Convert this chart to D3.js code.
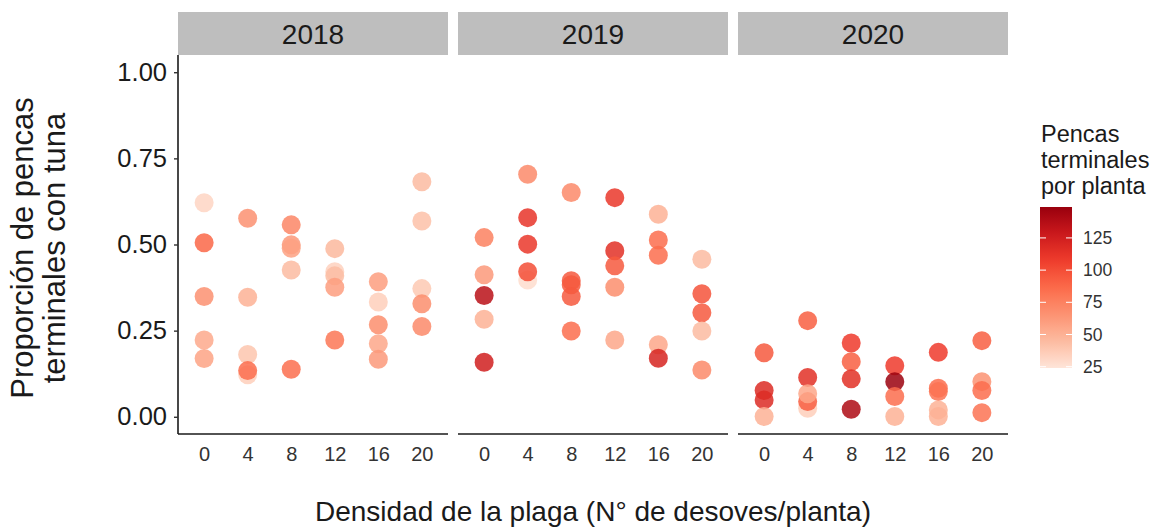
<!DOCTYPE html>
<html>
<head>
<meta charset="utf-8">
<script src="https://cdn.jsdelivr.net/npm/d3@7"></script>
<style>
  body { margin: 0; background: #fff; }
  text { font-family: "Liberation Sans", Arial, sans-serif; }
</style>
</head>
<body>
<div id="chart"></div>
<script>
// facet years and x categories
const years = ["2018", "2019", "2020"];
const densities = [0, 4, 8, 12, 16, 20];
const yTicks = [0, 0.25, 0.5, 0.75, 1];
const legendTicks = [25, 50, 75, 100, 125];

// density (x), proportion (y), pencas terminales por planta (colour)
const dens2018 = [0,0,0,0,0, 4,4,4,4,4, 8,8,8,8,8, 12,12,12,12,12, 16,16,16,16,16, 20,20,20,20,20];
const prop2018 = [0.621,0.505,0.349,0.223,0.169, 0.576,0.347,0.181,0.122,0.134, 0.557,0.499,0.489,0.426,0.138,
                  0.488,0.421,0.409,0.376,0.223, 0.392,0.333,0.267,0.212,0.167, 0.682,0.568,0.372,0.328,0.262];
const pen2018  = [32,88,66,54,57, 66,50,40,35,85, 72,62,58,45,84, 46,34,44,60,80, 60,35,68,55,62, 45,42,38,68,70];

const dens2019 = [0,0,0,0,0, 4,4,4,4,4, 8,8,8,8,8, 12,12,12,12,12, 16,16,16,16,16, 20,20,20,20,20];
const prop2019 = [0.520,0.412,0.352,0.283,0.158, 0.704,0.578,0.501,0.397,0.421, 0.651,0.395,0.383,0.349,0.249,
                  0.636,0.482,0.438,0.376,0.223, 0.588,0.513,0.469,0.209,0.170, 0.457,0.357,0.302,0.249,0.136];
const pen2019  = [75,62,135,50,125, 70,112,110,28,100, 70,95,95,95,85, 110,115,95,68,55, 50,85,85,55,122, 45,97,95,45,70];

const dens2020 = [0,0,0,0, 4,4,4,4,4, 8,8,8,8, 12,12,12,12, 16,16,16,16,16, 20,20,20,20];
const prop2020 = [0.186,0.076,0.049,0.001, 0.279,0.114,0.025,0.044,0.067, 0.214,0.160,0.110,0.022,
                  0.148,0.102,0.059,0.001, 0.187,0.083,0.073,0.020,0.001, 0.221,0.102,0.076,0.012];
const pen2020  = [95,118,118,50, 92,115,35,92,55, 108,92,115,140, 108,148,85,50, 108,85,82,50,50, 92,65,85,82];

const panels = [
  { year: years[0], dens: dens2018, prop: prop2018, pen: pen2018 },
  { year: years[1], dens: dens2019, prop: prop2019, pen: pen2019 },
  { year: years[2], dens: dens2020, prop: prop2020, pen: pen2020 }
];

const W = 1155, H = 527;
const svg = d3.select("#chart").append("svg").attr("width", W).attr("height", H);

const panelW = 270, gap = 10, plotLeft = 178, plotTop = 55, plotBottom = 434;
const stripTop = 12;

const y = d3.scaleLinear().domain([-0.05, 1.05]).range([plotBottom, plotTop]);

// brewer Reds (7) as used by scale_colour_distiller
const reds = ["#FEE5D9","#FCBBA1","#FC9272","#FB6A4A","#EF3B2C","#CB181D","#99000D"];
const cMin = 24, cMax = 149;
const colInterp = d3.piecewise(d3.interpolateLab, reds);
const color = v => colInterp((v - cMin) / (cMax - cMin));

panels.forEach((p, i) => {
  const x0 = plotLeft + i * (panelW + gap);
  const x = d3.scalePoint().domain(densities).range([x0, x0 + panelW]).padding(0.6);
  const g = svg.append("g");

  // strip
  g.append("rect")
    .attr("x", x0).attr("y", stripTop)
    .attr("width", panelW).attr("height", plotTop - stripTop)
    .attr("fill", "#BEBEBE");
  g.append("text")
    .attr("x", x0 + panelW / 2).attr("y", (stripTop + plotTop) / 2 + 10)
    .attr("text-anchor", "middle")
    .attr("font-size", 28).attr("fill", "#1a1a1a")
    .text(p.year);

  // x axis
  const xa = g.append("g").attr("transform", "translate(0," + plotBottom + ")")
    .call(d3.axisBottom(x).tickSize(0).tickPadding(13));
  xa.select(".domain").attr("d", "M" + x0 + ",0H" + (x0 + panelW)).attr("stroke", "#1a1a1a").attr("stroke-width", 1.6);
  xa.selectAll("text").attr("font-size", 20).attr("fill", "#333").attr("font-family", "Liberation Sans, Arial, sans-serif");

  // y axis only on first panel
  if (i === 0) {
    const ya = g.append("g").attr("transform", "translate(" + x0 + ",0)")
      .call(d3.axisLeft(y).tickValues(yTicks).tickFormat(d3.format(".2f")).tickSize(4).tickPadding(7));
    ya.select(".domain").attr("d", "M0," + plotTop + "V" + plotBottom).attr("stroke", "#1a1a1a").attr("stroke-width", 1.6);
    ya.selectAll(".tick line").attr("stroke", "#333").attr("stroke-width", 1.4);
    ya.selectAll("text").attr("font-size", 25.5).attr("fill", "#1a1a1a")
      .attr("font-family", "Liberation Sans, Arial, sans-serif");
  }

  // points
  g.append("g").selectAll("circle")
    .data(p.dens.map((d, k) => ({ d: d, v: p.prop[k], c: p.pen[k] })))
    .join("circle")
    .attr("cx", d => x(d.d))
    .attr("cy", d => y(d.v))
    .attr("r", 9.5)
    .attr("fill", d => color(d.c))
    .attr("fill-opacity", 0.85);
});

// axis titles
svg.append("text")
  .attr("transform", "translate(33,248) rotate(-90)")
  .attr("text-anchor", "middle").attr("font-size", 31).attr("fill", "#1a1a1a")
  .selectAll("tspan").data(["Proporción de pencas", "terminales con tuna"]).join("tspan")
  .attr("x", 0).attr("dy", (d, k) => k === 0 ? 0 : 32)
  .text(d => d);

svg.append("text")
  .attr("x", plotLeft + (3 * panelW + 2 * gap) / 2).attr("y", 521)
  .attr("text-anchor", "middle").attr("font-size", 28).attr("fill", "#1a1a1a")
  .text("Densidad de la plaga (N° de desoves/planta)");

// legend
const lg = svg.append("g");
lg.append("text")
  .attr("x", 1041).attr("y", 142)
  .attr("font-size", 23.5).attr("fill", "#1a1a1a")
  .selectAll("tspan").data(["Pencas", "terminales", "por planta"]).join("tspan")
  .attr("x", 1041).attr("dy", (d, k) => k === 0 ? 0 : 26)
  .text(d => d);

const barX = 1040, barW = 32, barTop = 207, barBottom = 368;
const ly = d3.scaleLinear().domain([cMin, cMax]).range([barBottom, barTop]);
const grad = svg.append("defs").append("linearGradient")
  .attr("id", "lgGrad").attr("x1", 0).attr("y1", 1).attr("x2", 0).attr("y2", 0);
d3.range(0, 1.0001, 0.05).forEach(t => {
  grad.append("stop").attr("offset", t).attr("stop-color", colInterp(t));
});
lg.append("rect")
  .attr("x", barX).attr("y", barTop).attr("width", barW).attr("height", barBottom - barTop)
  .attr("fill", "url(#lgGrad)");
legendTicks.forEach(t => {
  lg.append("line").attr("x1", barX).attr("x2", barX + 6).attr("y1", ly(t)).attr("y2", ly(t))
    .attr("stroke", "#fff").attr("stroke-width", 1);
  lg.append("line").attr("x1", barX + barW - 6).attr("x2", barX + barW).attr("y1", ly(t)).attr("y2", ly(t))
    .attr("stroke", "#fff").attr("stroke-width", 1);
  lg.append("text").attr("x", barX + barW + 11).attr("y", ly(t) + 6)
    .attr("font-size", 17.5).attr("fill", "#333").text(t);
});
</script>
</body>
</html>
